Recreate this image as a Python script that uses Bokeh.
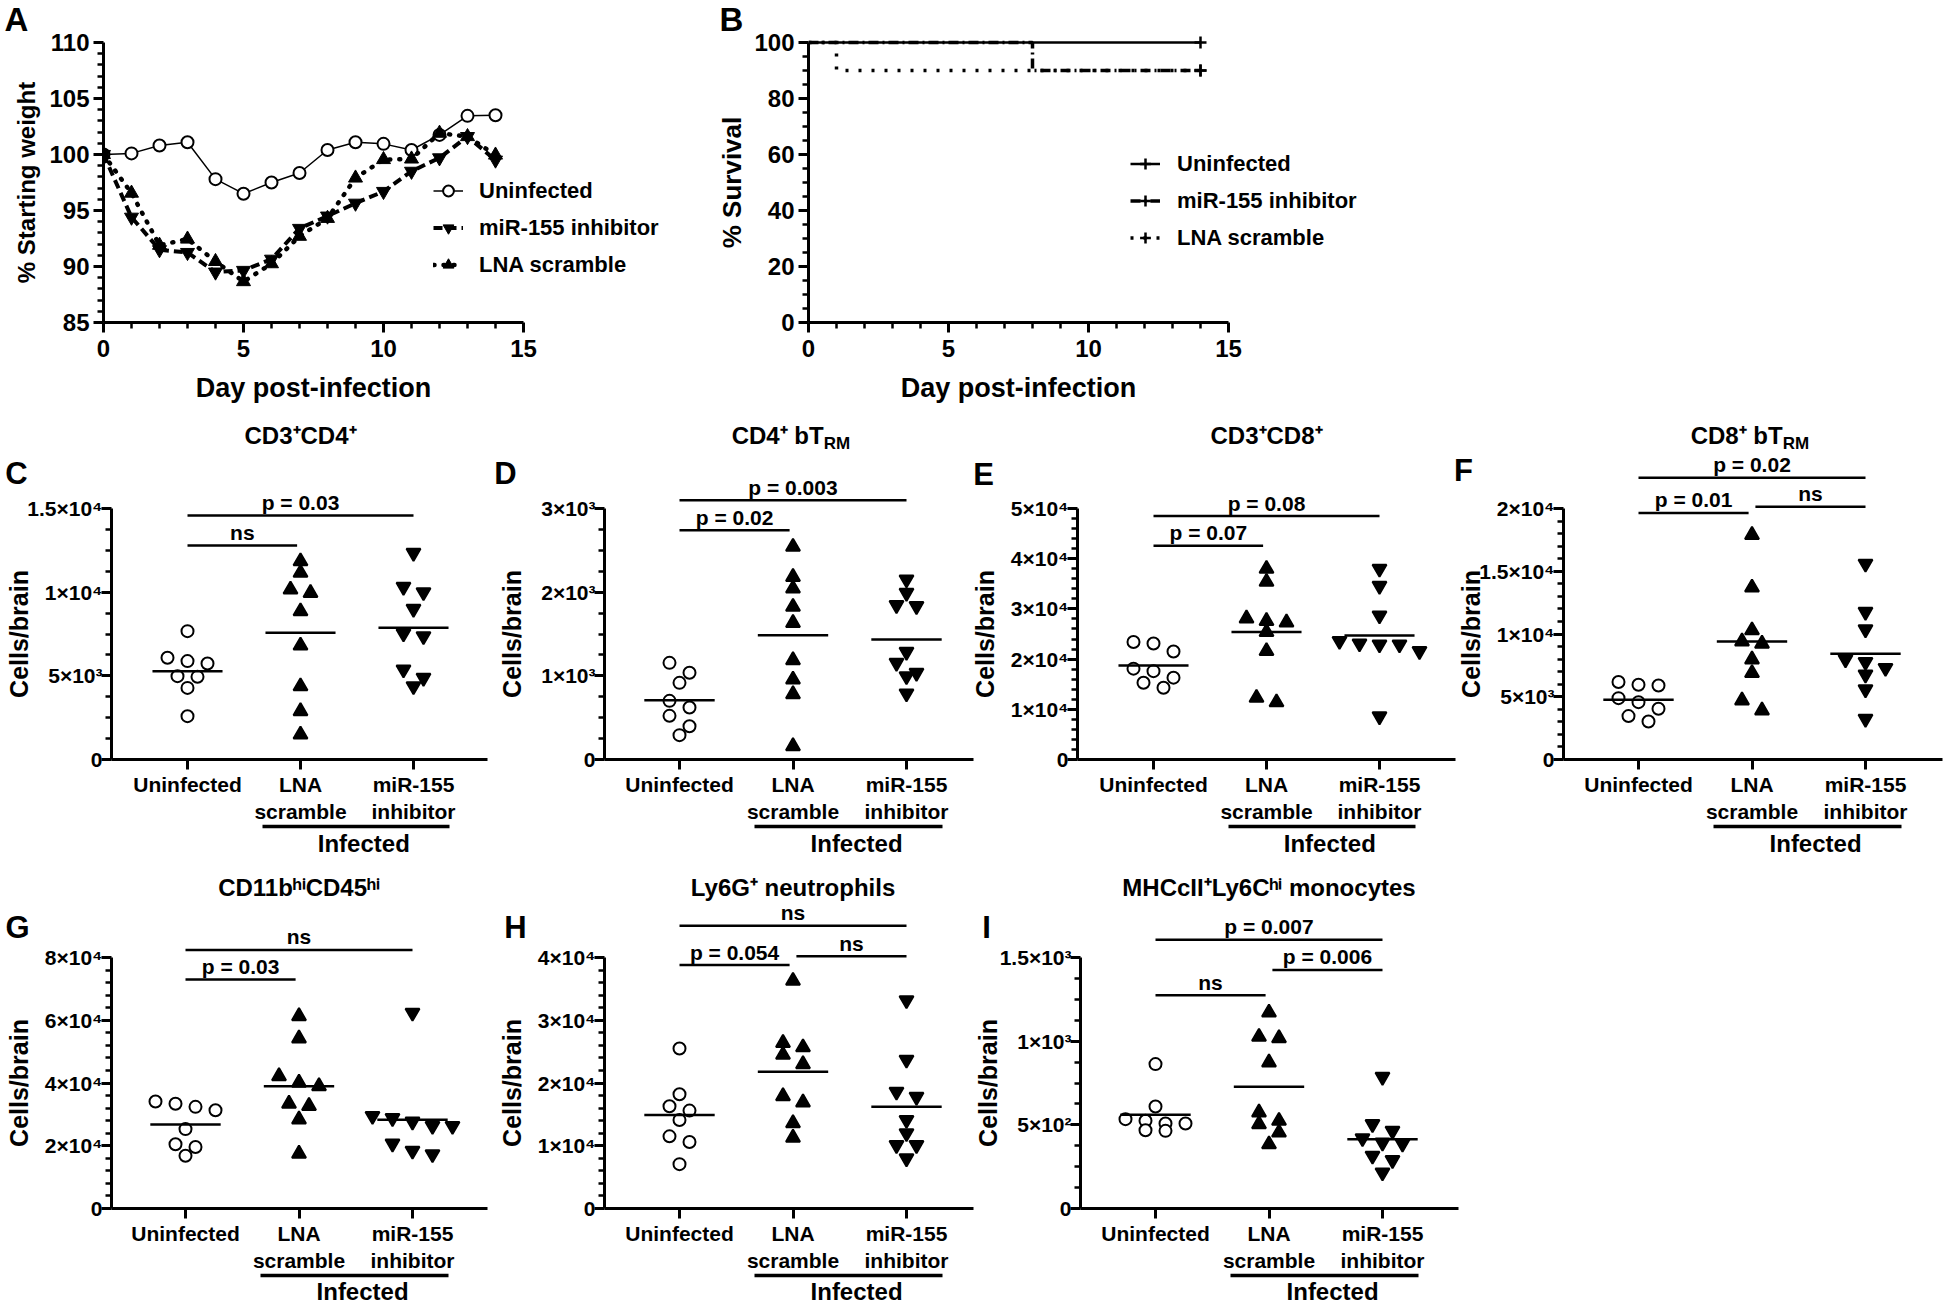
import math
from bokeh.plotting import figure
from bokeh.models import Range1d, FixedTicker, LinearAxis, Legend, LegendItem, GridBox
from bokeh.layouts import row, column
from bokeh.embed import file_html
from bokeh.resources import INLINE
from bokeh.core.properties import value

FONT = "Liberation Sans"
W, H = 1944, 1305

# ---------------- data ----------------
# A: body weight
days = list(range(15))
weight_uninfected = [100.0, 100.1, 100.8, 101.1, 97.8, 96.5, 97.5, 98.35, 100.4, 101.1, 100.95, 100.4, 101.75, 103.45, 103.5]
weight_mir155 = [100.0, 94.4, 91.5, 91.25, 89.5, 89.65, 90.65, 93.4, 94.5, 95.65, 96.7, 98.5, 99.7, 101.6, 99.5]
weight_lna = [100.0, 96.55, 91.9, 92.45, 90.45, 88.65, 90.25, 92.7, 94.3, 97.9, 99.55, 99.6, 101.9, 101.6, 99.95]

# B: survival
surv_days_uninfected = [0, 14]
surv_uninfected = [100, 100]
surv_days_mir155 = [0, 8, 14]
surv_mir155 = [100, 90, 90]
surv_days_lna = [0, 1, 14]
surv_lna = [100, 90, 90]

group_labels = ["Uninfected", "LNA\nscramble", "miR-155\ninhibitor"]

# C: CD3+CD4+
cd4_uninfected = [7670, 6080, 5880, 5740, 4980, 4940, 4280, 2590]
cd4_lna = [11850, 11160, 10160, 9960, 8860, 6810, 4380, 2890, 1490]
cd4_mir155 = [12350, 10320, 10000, 9000, 7370, 7530, 5380, 4880, 4380]
cd4_means = [5280, 7570, 7870]
cd4_tests = [("ns", 0, 1, 12790), ("p = 0.03", 0, 2, 14580)]
cd4_yticks = [0, 5000, 10000, 15000]

# D: CD4+ bTRM
cd4trm_uninfected = [1155, 1036, 916, 701, 622, 522, 398, 291]
cd4trm_lna = [2542, 2183, 2044, 1825, 1633, 1187, 956, 781, 159]
cd4trm_mir155 = [2151, 1992, 1833, 1845, 1287, 1155, 1036, 996, 789]
cd4trm_means = [709, 1486, 1434]
cd4trm_tests = [("p = 0.02", 0, 1, 2741), ("p = 0.003", 0, 2, 3100)]
cd4trm_yticks = [0, 1000, 2000, 3000]

# E: CD3+CD8+
cd8_uninfected = [23100, 23400, 21500, 18100, 17600, 16300, 15300, 14300]
cd8_lna = [38000, 35400, 27600, 28100, 27300, 25400, 21600, 12300, 11400]
cd8_mir155 = [38000, 34600, 28700, 23100, 22900, 23600, 21600, 22900, 8600]
cd8_means = [18750, 25400, 24700]
cd8_tests = [("p = 0.07", 0, 1, 42600), ("p = 0.08", 0, 2, 48500)]
cd8_yticks = [0, 10000, 20000, 30000, 40000, 50000]

# F: CD8+ bTRM
cd8trm_uninfected = [6170, 5960, 5900, 4890, 4570, 4040, 3460, 3030]
cd8trm_lna = [17900, 13700, 10300, 9230, 9410, 7980, 6890, 4710, 3910]
cd8trm_mir155 = [15600, 11760, 10370, 7980, 7770, 7290, 6760, 5590, 3240]
cd8trm_means = [4760, 9410, 8430]
cd8trm_tests = [("p = 0.01", 0, 1, 19650), ("ns", 1, 2, 20130), ("p = 0.02", 0, 2, 22450)]
cd8trm_yticks = [0, 5000, 10000, 15000, 20000]

# G: CD11b hi CD45 hi
myeloid_uninfected = [33400, 32400, 31300, 34100, 25300, 20500, 19600, 16800]
myeloid_lna = [61300, 54200, 42200, 40100, 39000, 33400, 32700, 28400, 17500]
myeloid_mir155 = [62400, 28800, 26300, 27700, 26300, 29500, 20700, 17300, 18400]
myeloid_means = [26800, 39000, 28300]
myeloid_tests = [("p = 0.03", 0, 1, 73000), ("ns", 0, 2, 82400)]
myeloid_yticks = [0, 20000, 40000, 60000, 80000]

# H: Ly6G+ neutrophils
neut_uninfected = [25500, 18200, 15600, 16300, 14100, 11500, 10600, 7070]
neut_lna = [36300, 25700, 26400, 24500, 23000, 16900, 17900, 13600, 11300]
neut_mir155 = [33200, 23700, 18600, 17800, 14100, 12000, 10100, 10100, 8000]
neut_means = [14900, 21800, 16200]
neut_tests = [("p = 0.054", 0, 1, 38800), ("ns", 1, 2, 40200), ("ns", 0, 2, 45050)]
neut_yticks = [0, 10000, 20000, 30000, 40000]

# I: MHCcII+ Ly6C hi monocytes
mono_uninfected = [863, 610, 524, 508, 508, 468, 534, 464]
mono_lna = [1171, 1018, 1026, 873, 574, 524, 504, 454, 384]
mono_mir155 = [787, 504, 464, 420, 394, 388, 315, 289, 215]
mono_means = [560, 727, 414]
mono_tests = [("ns", 0, 1, 1275), ("p = 0.006", 1, 2, 1426), ("p = 0.007", 0, 2, 1606)]
mono_yticks = [0, 500, 1000, 1500]

# ---------------- helpers ----------------
SUP = str.maketrans("0123456789", "⁰¹²³⁴⁵⁶⁷⁸⁹")
OVERLAY = []  # (x_px, y_px_from_top, text, size, align, angle)


def sci(v):
    if v == 0:
        return "0"
    e = int(math.floor(math.log10(v) + 1e-9))
    m = v / 10 ** e
    return ("%g" % m) + "×10" + str(e).translate(SUP)


def make_fig(fw, fh, mbl, mbr, mbt, mbb, xr, yr):
    p = figure(frame_width=int(fw), frame_height=int(fh), min_border_left=int(mbl),
               min_border_right=int(mbr), min_border_top=int(mbt), min_border_bottom=int(mbb),
               x_range=Range1d(*xr), y_range=Range1d(*yr),
               output_backend="svg", toolbar_location=None, tools="")
    p.outline_line_color = None
    p.xgrid.visible = False
    p.ygrid.visible = False
    p.background_fill_color = "white"
    p.border_fill_color = "white"
    return p


def style_axis(ax, size, standoff):
    ax.axis_line_width = 3
    ax.axis_line_color = "black"
    ax.major_tick_line_width = 3
    ax.major_tick_line_color = "black"
    ax.minor_tick_line_width = 2.5
    ax.minor_tick_line_color = "black"
    ax.major_tick_out = 10
    ax.major_tick_in = 0
    ax.minor_tick_out = 6
    ax.minor_tick_in = 0
    ax.major_label_text_font = FONT
    ax.major_label_text_font_style = "bold"
    ax.major_label_text_font_size = size
    ax.major_label_text_color = "black"
    ax.major_label_standoff = standoff


def style_legend(lg, standoff):
    lg.label_text_font = FONT
    lg.label_text_font_style = "bold"
    lg.label_text_font_size = "22px"
    lg.label_text_color = "black"
    lg.glyph_width = 30
    lg.glyph_height = 27
    lg.label_height = 27
    lg.spacing = 10
    lg.padding = 0
    lg.margin = 0
    lg.label_standoff = standoff
    lg.border_line_color = None
    lg.background_fill_alpha = 0


def swarm(vals, ppu, slot_px=20.0, min_dy=11.0):
    order = sorted(range(len(vals)), key=lambda i: -vals[i])
    rows = []
    for i in order:
        y = vals[i] * ppu
        if rows and abs(rows[-1][0] - y) < min_dy:
            rows[-1][1].append(i)
        else:
            rows.append([y, [i]])
    offs = [0.0] * len(vals)
    for _, members in rows:
        n = len(members)
        for k, i in enumerate(members):
            offs[i] = (k - (n - 1) / 2.0) * slot_px
    return offs


ROW1_H, R1_TOP, R1_BOTTOM = 410, 30, 322
PX_DAY = 28.0

# ---------------- panel A ----------------
A_AXIS, A_PX_Y = 103, 11.2
a_fh = R1_BOTTOM - R1_TOP
pa = make_fig(587, a_fh, A_AXIS, 10, R1_TOP, ROW1_H - R1_BOTTOM,
              (0, 587 / PX_DAY), (85, 85 + a_fh / A_PX_Y))
xa = pa.xaxis[0]
ya = pa.yaxis[0]
xa.ticker = FixedTicker(ticks=[0, 5, 10, 15], minor_ticks=[d for d in range(16) if d % 5])
xa.bounds = (0, 15)
ya.ticker = FixedTicker(ticks=list(range(85, 111, 5)), minor_ticks=[v for v in range(85, 111) if v % 5])
ya.bounds = (85, 110)
style_axis(xa, "24px", 7)
style_axis(ya, "24px", 4)

ra1 = pa.line(days, weight_uninfected, line_color="black", line_width=1.5)
sa1 = pa.scatter(days, weight_uninfected, marker="circle", size=12, fill_color="white",
                 line_color="black", line_width=2)
ra2 = pa.line(days, weight_mir155, line_color="black", line_width=4, line_dash="9 5")
sa2 = pa.scatter(days, weight_mir155, marker="inverted_triangle", size=14, fill_color="black",
                 line_color="black")
ra3 = pa.line(days, weight_lna, line_color="black", line_width=4.5, line_dash="1 9", line_cap="round")
sa3 = pa.scatter(days, weight_lna, marker="triangle", size=14, fill_color="black", line_color="black")
leg_a = Legend(items=[LegendItem(label="Uninfected", renderers=[ra1, sa1]),
                      LegendItem(label="miR-155 inhibitor", renderers=[ra2, sa2]),
                      LegendItem(label="LNA scramble", renderers=[ra3, sa3])],
               location=(330, 44))
style_legend(leg_a, 16)
pa.add_layout(leg_a)
A_Y110 = R1_BOTTOM - 25 * A_PX_Y
OVERLAY += [(16, 19, "A", "33px", "center", 0.0),
            (26, (A_Y110 + R1_BOTTOM) / 2, "% Starting weight", "24px", "center", math.pi / 2),
            (A_AXIS + 7.5 * PX_DAY, R1_BOTTOM + 65, "Day post-infection", "27px", "center", 0.0)]

# ---------------- panel B ----------------
B_AXIS, B_PX_Y = 808, 2.8
pb = make_fig(592, a_fh, B_AXIS - 700, W - 700 - (B_AXIS - 700) - 592, R1_TOP,
              ROW1_H - R1_BOTTOM, (0, 592 / PX_DAY), (0, a_fh / B_PX_Y))
xb = pb.xaxis[0]
yb = pb.yaxis[0]
xb.ticker = FixedTicker(ticks=[0, 5, 10, 15], minor_ticks=[d for d in range(16) if d % 5])
xb.bounds = (0, 15)
yb.ticker = FixedTicker(ticks=list(range(0, 101, 20)), minor_ticks=[v for v in range(0, 101, 5) if v % 20])
yb.bounds = (0, 100)
style_axis(xb, "24px", 7)
style_axis(yb, "24px", 4)

rb1 = pb.step(surv_days_uninfected, surv_uninfected, mode="after", line_color="black", line_width=2.5)
cb1 = pb.scatter([surv_days_uninfected[-1]], [surv_uninfected[-1]], marker="cross",
                 size=12, line_color="black", line_width=2.5)
rb2 = pb.step(surv_days_mir155, surv_mir155, mode="after", line_color="black", line_width=3.5,
              line_dash="10 4 2 4")
cb2 = pb.scatter([surv_days_mir155[-1]], [surv_mir155[-1]], marker="cross",
                 size=12, line_color="black", line_width=2.5)
rb3 = pb.step(surv_days_lna, surv_lna, mode="after", line_color="black", line_width=3.5,
              line_dash="3 10")
cb3 = pb.scatter([surv_days_lna[-1]], [surv_lna[-1]], marker="cross",
                 size=12, line_color="black", line_width=2.5)
leg_b = Legend(items=[LegendItem(label="Uninfected", renderers=[rb1, cb1]),
                      LegendItem(label="miR-155 inhibitor", renderers=[rb2, cb2]),
                      LegendItem(label="LNA scramble", renderers=[rb3, cb3])],
               location=(322, 71))
style_legend(leg_b, 17)
pb.add_layout(leg_b)
B_Y100 = R1_BOTTOM - 100 * B_PX_Y
OVERLAY += [(731, 19, "B", "33px", "center", 0.0),
            (731, (B_Y100 + R1_BOTTOM) / 2, "% Survival", "26px", "center", math.pi / 2),
            (B_AXIS + 7.5 * PX_DAY, R1_BOTTOM + 65, "Day post-infection", "27px", "center", 0.0)]

# ---------------- scatter panels ----------------
ROW2 = dict(rtop=410, ftop=448, y0=759, rbot=855, title=324, inf=84)
ROW3 = dict(rtop=855, ftop=902, y0=1208, rbot=H, title=321, inf=83)
TICK_PX = 251.0


def scatter_panel(geo, rowg, letter, letter_pos, title, uninf, lna, mir, means, tests, yticks, nminor):
    top = yticks[-1]
    ppu = TICK_PX / top
    fh = rowg["y0"] - rowg["ftop"]
    fw = geo["cr"] - geo["axis"] - geo["mbr"]
    sp = geo["sp"]
    xs = -(geo["cat0"] - geo["axis"]) / sp
    xe = xs + fw / sp
    p = make_fig(fw, fh, geo["axis"] - geo["cl"], geo["mbr"], rowg["ftop"] - rowg["rtop"],
                 rowg["rbot"] - rowg["y0"], (xs, xe), (0, fh / ppu))
    xa = p.xaxis[0]
    xa.ticker = FixedTicker(ticks=[0, 1, 2])
    xa.major_label_overrides = {i: lab for i, lab in enumerate(group_labels)}
    style_axis(xa, "21px", 3)
    xa.minor_tick_line_color = None
    ya = p.yaxis[0]
    step = yticks[1] - yticks[0]
    minor = [step * k / nminor for k in range(0, nminor * (len(yticks) - 1) + 1) if k % nminor]
    ya.ticker = FixedTicker(ticks=yticks, minor_ticks=minor)
    ya.bounds = (0, top)
    ya.major_label_overrides = {t: sci(t) for t in yticks}
    style_axis(ya, "21px", -1)

    inf_axis = LinearAxis(ticker=FixedTicker(ticks=[]), bounds=(0.66, 2.32))
    inf_axis.axis_line_width = 3.5
    inf_axis.axis_line_color = "black"
    inf_axis.major_tick_line_color = None
    inf_axis.minor_tick_line_color = None
    inf_axis.major_label_text_font_size = "0px"
    p.add_layout(inf_axis, "below")

    groups = [(uninf, "circle", "white", 12), (lna, "triangle", "black", 14),
              (mir, "inverted_triangle", "black", 14)]
    for k, (vals, marker, fill, size) in enumerate(groups):
        offs = swarm(vals, ppu)
        xv = [k + o / sp for o in offs]
        p.scatter(xv, vals, marker=marker, size=size, fill_color=fill, line_color="black", line_width=2)
    half = 0.31
    p.segment(x0=[k - half for k in range(3)], x1=[k + half for k in range(3)],
              y0=means, y1=means, line_color="black", line_width=2.5)
    bx0, bx1, by, tx, tt = [], [], [], [], []
    for txt, a, b, lvl in tests:
        x0 = a + (0.03 if a == 1 else 0.0)
        x1 = b - (0.03 if b == 1 else 0.0)
        bx0.append(x0)
        bx1.append(x1)
        by.append(lvl)
        tx.append((x0 + x1) / 2.0)
        tt.append(txt)
    p.segment(x0=bx0, x1=bx1, y0=by, y1=by, line_color="black", line_width=2.5)
    p.text(x=tx, y=by, text=tt, text_font=value(FONT), text_font_style="bold",
           text_font_size="21px", text_align="center", text_baseline="middle",
           y_offset=-13, text_color="black")

    def cx(c):
        return geo["cat0"] + c * sp

    y0 = rowg["y0"]
    OVERLAY.append((geo["axis"] + letter_pos[0], y0 - letter_pos[1], letter, "31px", "center", 0.0))
    if isinstance(title, tuple):
        OVERLAY.append((cx(title[2]), y0 - rowg["title"], title[0], "24px", "right", 0.0))
        OVERLAY.append((cx(title[2]), y0 - rowg["title"] + 8, title[1], "17px", "left", 0.0))
    else:
        OVERLAY.append((cx(1.0), y0 - rowg["title"], title, "24px", "center", 0.0))
    OVERLAY.append((geo["axis"] - 93, y0 - TICK_PX / 2, "Cells/brain", "25px", "center", math.pi / 2))
    OVERLAY.append((cx(1.56), y0 + rowg["inf"], "Infected", "24px", "center", 0.0))
    return p


GEO = {
    "C": dict(cl=0, cr=490, axis=111, cat0=187, sp=113.0, mbr=3),
    "D": dict(cl=490, cr=975, axis=604, cat0=679, sp=113.5, mbr=2),
    "E": dict(cl=975, cr=1457, axis=1077, cat0=1153, sp=113.0, mbr=2),
    "F": dict(cl=1457, cr=W, axis=1563, cat0=1638, sp=113.5, mbr=2),
    "G": dict(cl=0, cr=490, axis=111, cat0=185, sp=113.5, mbr=3),
    "H": dict(cl=490, cr=975, axis=604, cat0=679, sp=113.5, mbr=2),
    "I": dict(cl=975, cr=1460, axis=1080, cat0=1155, sp=113.5, mbr=2),
}

pc = scatter_panel(GEO["C"], ROW2, "C", (-95, 286), "CD3⁺CD4⁺",
                   cd4_uninfected, cd4_lna, cd4_mir155, cd4_means, cd4_tests, cd4_yticks, 4)
pd_ = scatter_panel(GEO["D"], ROW2, "D", (-99, 286), ("CD4⁺ bT", "RM", 1.27),
                    cd4trm_uninfected, cd4trm_lna, cd4trm_mir155, cd4trm_means, cd4trm_tests, cd4trm_yticks, 4)
pe = scatter_panel(GEO["E"], ROW2, "E", (-94, 285), "CD3⁺CD8⁺",
                   cd8_uninfected, cd8_lna, cd8_mir155, cd8_means, cd8_tests, cd8_yticks, 5)
pf = scatter_panel(GEO["F"], ROW2, "F", (-100, 289), ("CD8⁺ bT", "RM", 1.27),
                   cd8trm_uninfected, cd8trm_lna, cd8trm_mir155, cd8trm_means, cd8trm_tests, cd8trm_yticks, 5)
pg = scatter_panel(GEO["G"], ROW3, "G", (-94, 281), "CD11bʰⁱCD45ʰⁱ",
                   myeloid_uninfected, myeloid_lna, myeloid_mir155, myeloid_means, myeloid_tests, myeloid_yticks, 5)
ph = scatter_panel(GEO["H"], ROW3, "H", (-89, 281), "Ly6G⁺ neutrophils",
                   neut_uninfected, neut_lna, neut_mir155, neut_means, neut_tests, neut_yticks, 5)
pi_ = scatter_panel(GEO["I"], ROW3, "I", (-94, 281), "MHCcII⁺Ly6Cʰⁱ monocytes",
                    mono_uninfected, mono_lna, mono_mir155, mono_means, mono_tests, mono_yticks, 4)

main = column(row(pa, pb), row(pc, pd_, pe, pf), row(pg, ph, pi_))

# transparent overlay page carrying the texts that sit outside the plot frames
ov = figure(width=W, height=H, x_range=Range1d(0, W), y_range=Range1d(0, H),
            x_axis_type=None, y_axis_type=None, min_border=0,
            output_backend="svg", toolbar_location=None, tools="")
ov.outline_line_color = None
ov.background_fill_alpha = 0
ov.border_fill_alpha = 0
styles = {}
for x, y, t, size, align, ang in OVERLAY:
    styles.setdefault((size, align, ang), []).append((x, H - y, t))
for (size, align, ang), items in styles.items():
    ov.text(x=[i[0] for i in items], y=[i[1] for i in items], text=[i[2] for i in items],
            text_font=value(FONT), text_font_style="bold", text_font_size=size,
            text_align=align, text_baseline="middle", angle=ang, text_color="black")

page = GridBox(children=[(main, 0, 0), (ov, 0, 0)])
open("out.html", "w").write(file_html(page, INLINE, title="miR-155 inhibitor"))
